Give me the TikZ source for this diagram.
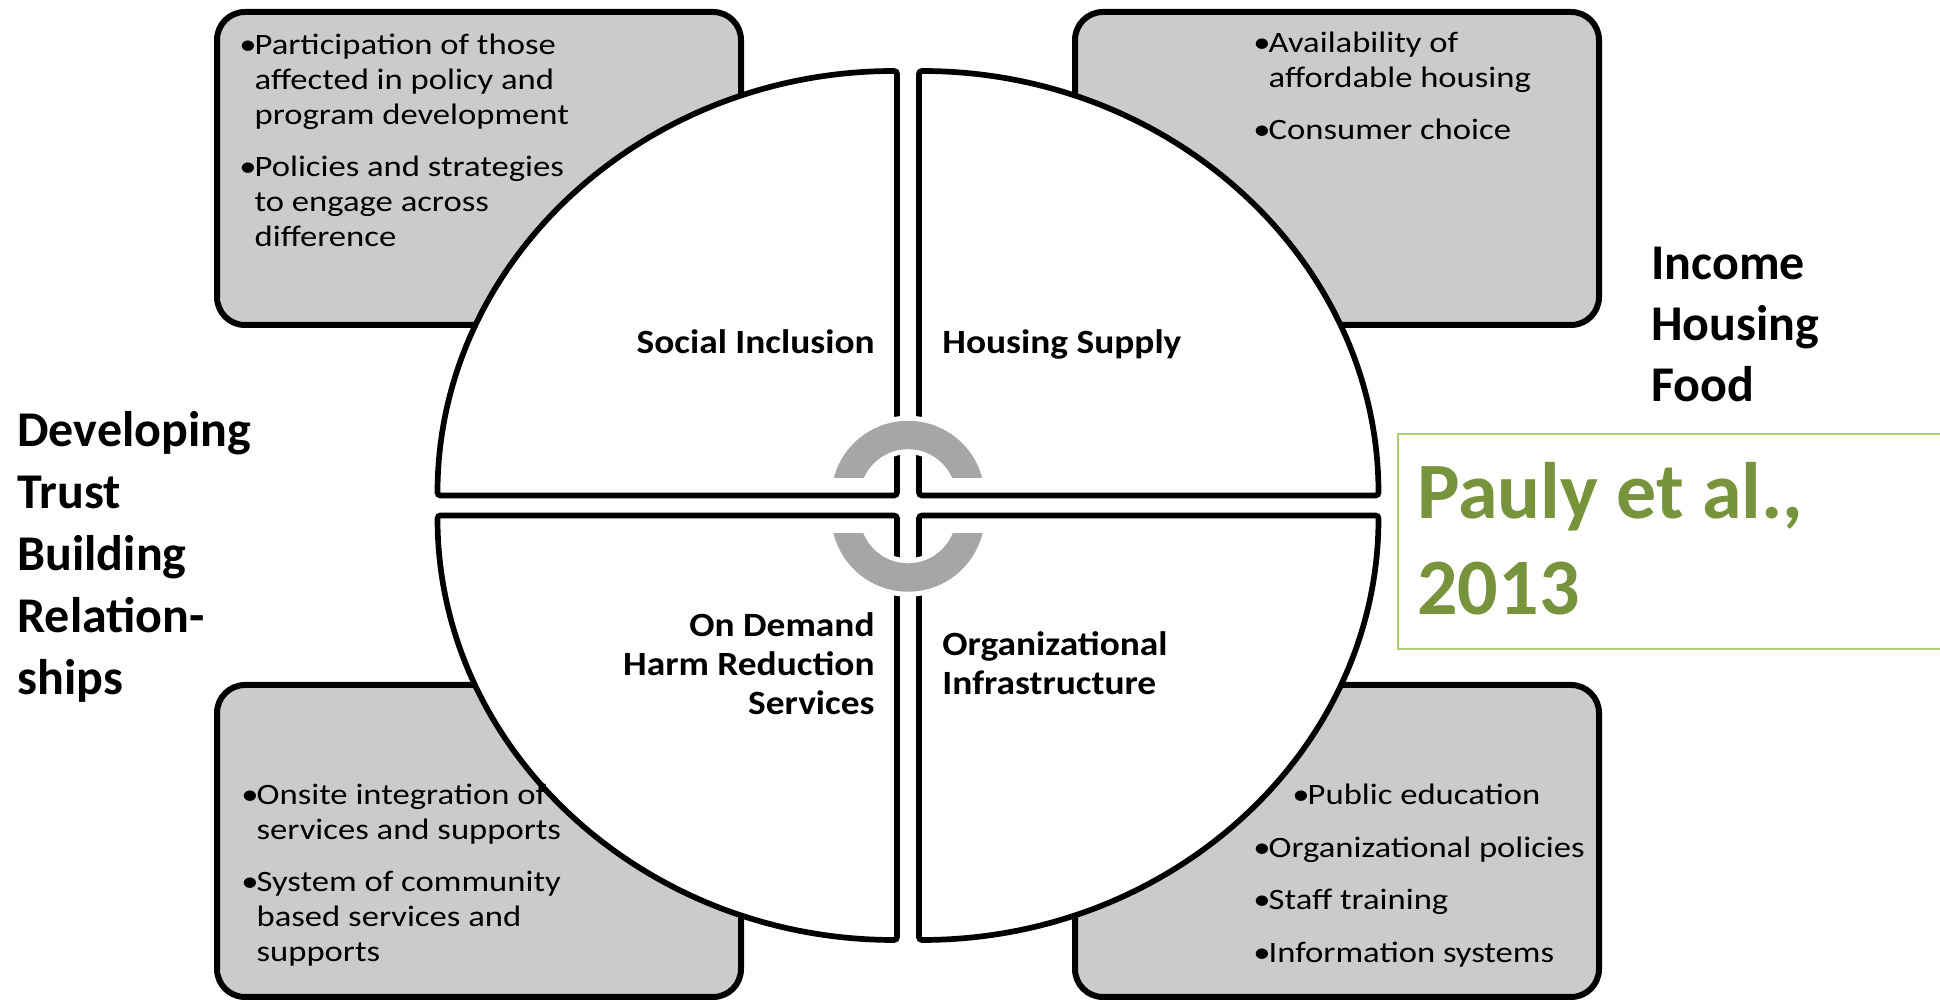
\documentclass[tikz,border=0pt]{standalone}
\usepackage{fontspec}
\setmainfont{Carlito}
\newfontfamily\boxfont[FakeStretch=1.17]{Carlito}
\newfontfamily\labfont[FakeStretch=1.1]{Carlito}
\definecolor{boxgray}{HTML}{CBCBCB}
\definecolor{ringgray}{HTML}{A6A6A6}
\definecolor{citegreen}{HTML}{77933C}
\definecolor{citeframe}{HTML}{A9CF7B}
\newcommand{\bul}[1]{\begin{tabular}[t]{@{}l@{}l@{}}\textbullet\kern-1pt&#1\end{tabular}}
\newcommand{\lines}[1]{\begin{tabular}[t]{@{}l@{}}#1\end{tabular}}
\newcommand{\rlines}[1]{\begin{tabular}[t]{@{}r@{}}#1\end{tabular}}
\tikzset{
  infobox/.style={draw=black, line width=3pt, fill=boxgray, rounded corners=14pt},
  quarter/.style={draw=black, line width=2.85pt, fill=white, rounded corners=1.5pt},
  ring/.style={draw=ringgray, line width=14.2pt},
  halo/.style={draw=white, line width=19.2pt},
  points/.style={font=\boxfont\fontsize{14.8}{17.5}\selectfont, inner sep=0pt, anchor=base west},
  quadlabel/.style={font=\labfont\bfseries\fontsize{17}{19.5}\selectfont, inner sep=0pt},
  sidelabel/.style={font=\bfseries, inner sep=0pt, anchor=base west},
}
\begin{document}
\begin{tikzpicture}[x=1pt,y=1pt]
\useasboundingbox (0,0) rectangle (970,500);
% grey boxes
\draw[infobox] (108.5,337.5) rectangle (370.5,494);
\draw[infobox] (537.5,337.5) rectangle (799.5,494);
\draw[infobox] (108.5,1.5) rectangle (370.5,157.5);
\draw[infobox] (537.5,1.5) rectangle (799.5,157.5);
% circle in four quarters
\draw[quarter] (448.5,252.25) -- (218.75,252.25) arc[start angle=180, end angle=90, x radius=229.75pt, y radius=212.25pt] -- cycle;
\draw[quarter] (459.5,252.25) -- (459.5,464.5) arc[start angle=90, end angle=0, x radius=229.75pt, y radius=212.25pt] -- cycle;
\draw[quarter] (448.5,242.25) -- (218.75,242.25) arc[start angle=180, end angle=270, x radius=229.75pt, y radius=212.25pt] -- cycle;
\draw[quarter] (459.5,242.25) -- (689.25,242.25) arc[start angle=0, end angle=-90, x radius=229.75pt, y radius=212.25pt] -- cycle;
% grey rings
\begin{scope}
\clip (380,261) rectangle (530,300);
\draw[halo] (454,251.25) circle[radius=31.25pt];
\draw[ring] (454,251.25) circle[radius=31.25pt];
\end{scope}
\begin{scope}
\clip (380,233.35) rectangle (530,190);
\draw[halo] (454,242.5) circle[radius=31.25pt];
\draw[ring] (454,242.5) circle[radius=31.25pt];
\end{scope}
% box texts
\node[points] (incl1) at (119.5,472.5) {\bul{Participation of those\\&affected in policy and\\&program development}};
\node[points] (incl2) at (119.5,411.5) {\bul{Policies and strategies\\&to engage across\\&difference}};
\node[points] (supp1) at (626.5,473.5) {\bul{Availability of\\&affordable housing}};
\node[points] (supp2) at (626.5,430) {\bul{Consumer choice}};
\node[points] (harm1) at (120.5,97.5) {\bul{Onsite integration of\\&services and supports}};
\node[points] (harm2) at (120.5,54) {\bul{System of community\\&based services and\\&supports}};
\node[points] (org1) at (646,97.5) {\bul{Public education}};
\node[points] (org2) at (626.5,71) {\bul{Organizational policies}};
\node[points] (org3) at (626.5,45) {\bul{Staff training}};
\node[points] (org4) at (626.5,18.5) {\bul{Information systems}};
%
\node[quadlabel, anchor=base east] (incl) at (437.5,323) {Social Inclusion};
\node[quadlabel, anchor=base west] (supp) at (471,323) {Housing Supply};
\node[quadlabel, anchor=base east] (harm) at (437.5,181.5) {\rlines{On Demand\\Harm Reduction\\Services}};
\node[quadlabel, anchor=base west] (org) at (471,172) {\lines{Organizational\\Infrastructure}};
% overlaid texts
\node[sidelabel, font=\bfseries\fontsize{25}{31}\selectfont] (trust) at (8.5,276.5) {\lines{Developing\\Trust\\Building\\Relation-\\ships}};
\node[sidelabel, font=\bfseries\fontsize{25}{30.5}\selectfont] (needs) at (825.5,360) {\lines{Income\\Housing\\Food}};
\draw[citeframe, line width=1.4pt] (699,175.5) rectangle (990,283);
\node[sidelabel, text=citegreen, font=\bfseries\fontsize{40}{48}\selectfont] (cite) at (708.5,240.5) {\lines{Pauly et al.,\\2013}};
\end{tikzpicture}
\end{document}
